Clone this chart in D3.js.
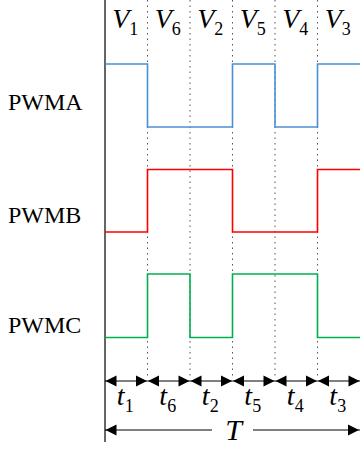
<!DOCTYPE html>
<html>
<head>
<meta charset="utf-8">
<script src="https://cdn.jsdelivr.net/npm/d3@7"></script>
<style>
  html, body { margin: 0; padding: 0; background: #fff; }
  svg { display: block; }
  text { font-family: "Liberation Serif", "Times New Roman", serif; fill: #000; }
</style>
</head>
<body>
<div id="chart"></div>
<script>
// ---- data ----
const sectors = ["1", "6", "2", "5", "4", "3"];          // V subscripts (top)
const times = ["1", "6", "2", "5", "4", "3"];            // t subscripts (bottom)
const signalNames = ["PWMA", "PWMB", "PWMC"];
const pwmA = [1, 0, 0, 1, 0, 1];
const pwmB = [0, 1, 1, 0, 0, 1];
const pwmC = [0, 1, 0, 1, 1, 0];
const periodLabel = "T";

// ---- layout ----
const W = 360, H = 450;
const svg = d3.select("#chart").append("svg").attr("width", W).attr("height", H);

const x = d3.scaleLinear().domain([0, sectors.length]).range([105, 360]);

const rows = [
  { name: signalNames[0], values: pwmA, color: "#4a90d0", low: 127, high: 64, labelY: 110 },
  { name: signalNames[1], values: pwmB, color: "#ff0000", low: 232, high: 169.5, labelY: 223 },
  { name: signalNames[2], values: pwmC, color: "#00b050", low: 337.5, high: 274, labelY: 333 }
];

// dotted separators
svg.append("g").selectAll("line")
  .data(d3.range(1, sectors.length))
  .join("line")
  .attr("x1", d => x(d)).attr("x2", d => x(d))
  .attr("y1", 0).attr("y2", 376)
  .attr("stroke", "#555").attr("stroke-width", 1)
  .attr("stroke-dasharray", "1.5,4");

// main vertical axis
svg.append("line")
  .attr("x1", x(0)).attr("x2", x(0))
  .attr("y1", 0).attr("y2", 442)
  .attr("stroke", "#333").attr("stroke-width", 1.5);

// signals
rows.forEach(r => {
  const y = d3.scaleLinear().domain([0, 1]).range([r.low, r.high]);
  const pts = r.values.map((v, i) => [i, v]);
  pts.push([r.values.length, r.values[r.values.length - 1]]);
  const line = d3.line().x(d => x(d[0])).y(d => y(d[1])).curve(d3.curveStepAfter);
  svg.append("path")
    .attr("d", line(pts))
    .attr("fill", "none")
    .attr("stroke", r.color)
    .attr("stroke-width", 1.6);
  svg.append("text")
    .attr("x", 8).attr("y", r.labelY)
    .attr("font-size", 24)
    .text(r.name);
});

// V labels
const vt = svg.append("g").selectAll("text")
  .data(sectors)
  .join("text")
  .attr("x", (d, i) => x(i + 0.5) - 1)
  .attr("y", 28)
  .attr("text-anchor", "middle")
  .attr("font-size", 28);
vt.append("tspan").attr("font-style", "italic").text("V");
vt.append("tspan").attr("dy", 7).attr("font-size", 18).text(d => d);

// arrowhead helper
function head(g, tipX, y, dir) {
  const L = 11, hw = 5.5;
  g.append("path")
    .attr("d", `M${tipX},${y} L${tipX - dir * L},${y - hw} L${tipX - dir * L},${y + hw} Z`)
    .attr("fill", "#000");
}

// t interval arrows
const arrowY = 381;
const ag = svg.append("g");
times.forEach((d, i) => {
  const x0 = x(i), x1 = x(i + 1);
  ag.append("line")
    .attr("x1", x0).attr("x2", x1)
    .attr("y1", arrowY).attr("y2", arrowY)
    .attr("stroke", "#000").attr("stroke-width", 1);
  head(ag, x0 + 0.5, arrowY, -1);
  head(ag, x1 - 0.5, arrowY, 1);
});

const tt = svg.append("g").selectAll("text")
  .data(times)
  .join("text")
  .attr("x", (d, i) => x(i + 0.5) - 1)
  .attr("y", 405)
  .attr("text-anchor", "middle")
  .attr("font-size", 28);
tt.append("tspan").attr("font-style", "italic").text("t");
tt.append("tspan").attr("dy", 7).attr("font-size", 18).text(d => d);

// T period arrow
const TY = 430;
const tg = svg.append("g");
tg.append("line").attr("x1", x(0)).attr("x2", 212).attr("y1", TY).attr("y2", TY)
  .attr("stroke", "#000").attr("stroke-width", 1);
tg.append("line").attr("x1", 253).attr("x2", x(sectors.length)).attr("y1", TY).attr("y2", TY)
  .attr("stroke", "#000").attr("stroke-width", 1);
head(tg, x(0) + 0.5, TY, -1);
head(tg, x(sectors.length) - 1, TY, 1);
tg.append("text")
  .attr("x", x(sectors.length / 2) + 1)
  .attr("y", 440)
  .attr("text-anchor", "middle")
  .attr("font-size", 30)
  .attr("font-style", "italic")
  .text(periodLabel);
</script>
</body>
</html>
